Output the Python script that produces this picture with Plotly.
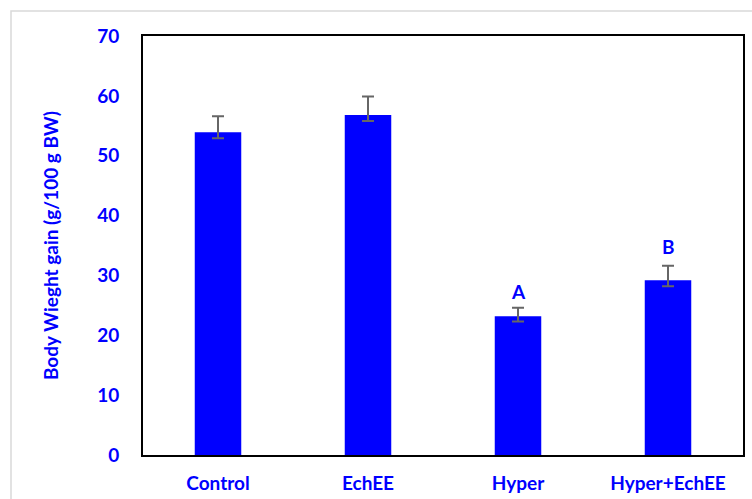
import plotly.graph_objects as go

groups = ["Control", "EchEE", "Hyper", "Hyper+EchEE"]
gain = [53.9, 56.8, 23.2, 29.2]
err_plus = [2.7, 3.1, 1.4, 2.4]
err_minus = [1.0, 1.0, 0.9, 1.0]
letters = ["", "", "A", "B"]
letter_y = [0, 0, 27.3, 34.8]
y_ticks = [0, 10, 20, 30, 40, 50, 60, 70]

BLUE = "#0000ff"
FONT = "Lato"

W, H = 752, 499
L, R, T, B = 143, 9, 36, 44

fig = go.Figure()
fig.add_trace(go.Bar(
    x=groups, y=gain, width=0.31,
    marker=dict(color=BLUE, line=dict(width=0)),
    error_y=dict(type="data", symmetric=False, array=err_plus, arrayminus=err_minus,
                 color="#666666", thickness=2, width=6),
))

for g, t, yy in zip(groups, letters, letter_y):
    if t:
        fig.add_annotation(x=g, y=yy, text=f"<b>{t}</b>", showarrow=False,
                           font=dict(family=FONT, size=19, color=BLUE))

# light outer frame around the whole chart
pw, ph = W - L - R, H - T - B
def px_x(v): return (v - L) / pw
def px_y(v): return (H - B - v) / ph
fig.add_shape(type="rect", xref="paper", yref="paper",
              x0=px_x(11), x1=px_x(770), y0=px_y(11), y1=px_y(520),
              line=dict(color="#d9d9d9", width=1.5), layer="below")

fig.update_layout(
    width=W, height=H,
    margin=dict(l=L, r=R, t=T, b=B),
    paper_bgcolor="white", plot_bgcolor="white",
    showlegend=False,
    xaxis=dict(showline=True, linecolor="black", linewidth=2, mirror=True,
               ticks="", showgrid=False, ticklabelstandoff=10, automargin=False,
               tickfont=dict(family=FONT, size=19, color=BLUE, weight="bold")),
    yaxis=dict(range=[0, 70], tickvals=y_ticks, showline=True, linecolor="black",
               linewidth=2, mirror=True, ticks="", showgrid=False, zeroline=False,
               ticklabelstandoff=18, automargin=False,
               tickfont=dict(family=FONT, size=19, color=BLUE, weight="bold"),
               title=dict(text="<b>Body Wieght gain (g/100 g BW)</b>", standoff=34,
                          font=dict(family=FONT, size=19, color=BLUE))),
)

fig.write_html("out.html")
